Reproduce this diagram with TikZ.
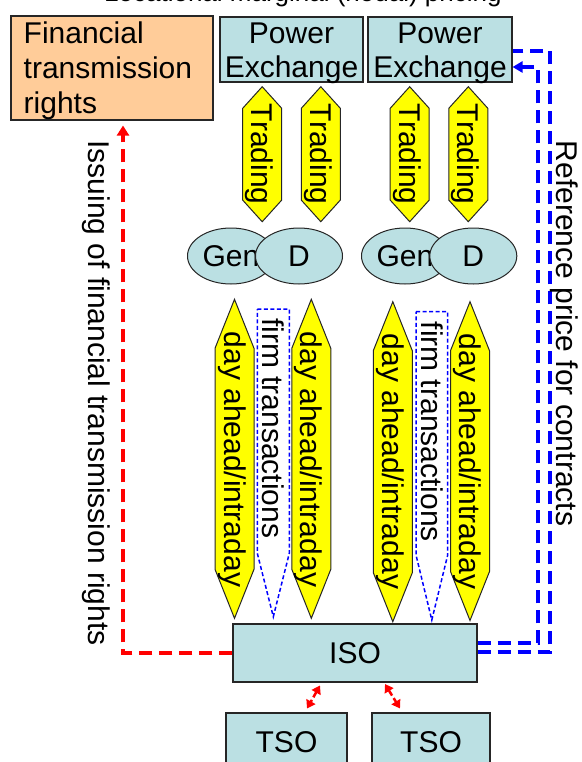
\documentclass[tikz,border=0pt]{standalone}
\usepackage{fontspec}
\setmainfont{Liberation Sans}
\usetikzlibrary{shapes.geometric,arrows.meta,backgrounds}
\definecolor{ftrfill}{HTML}{FFCC99}
\definecolor{boxblue}{HTML}{BBE0E3}
\definecolor{hexyellow}{HTML}{FFFF00}
\definecolor{lineblue}{HTML}{0000FF}
\definecolor{linered}{HTML}{FF0000}
\definecolor{edgegray}{HTML}{262626}
% cx, top, bottom, taper, halfwidth
\newcommand\myhexpath[5]{(#1,#2) -- (#1+#5,#2+#4) -- (#1+#5,#3-#4) -- (#1,#3) -- (#1-#5,#3-#4) -- (#1-#5,#2+#4) -- cycle}
\tikzset{
  bigfont/.style={font=\fontsize{30}{34.5}\selectfont},
  onetext/.style={bigfont, inner sep=0pt, text height=27.15pt, text depth=6.36pt},
  rottext/.style={onetext, rotate=-90},
  bluebox/.style={draw=edgegray, line width=1.1pt, fill=boxblue, inner sep=0pt, onetext},
  ellbox/.style={ellipse, draw=edgegray, line width=1pt, fill=boxblue, inner sep=0pt,
    minimum width=87pt, minimum height=56pt, onetext},
  hexa/.style={draw=edgegray, line width=1pt, fill=hexyellow, line join=miter},
  firmline/.style={draw=lineblue, line width=1.5pt, dash pattern=on 4pt off 2.5pt},
  redline/.style={draw=linered, line width=3.5pt, dash pattern=on 13pt off 7pt},
  blueline/.style={draw=lineblue, line width=3.5pt, dash pattern=on 13pt off 7pt},
  smallred/.style={draw=linered, line width=2.5pt, dash pattern=on 6pt off 3pt,
    {Triangle[length=8pt,width=10pt]}-{Triangle[length=8pt,width=10pt]}},
}
\begin{document}
\begin{tikzpicture}[x=1pt,y=-1pt]
\useasboundingbox (0,0) rectangle (581,762);
\clip (0,0) rectangle (581,762);

% title (cut off at the top)
\node[anchor=base west, inner sep=0pt, font=\fontsize{26}{30}\selectfont] (title) at (104,1.5) {Locational marginal (nodal) pricing};

% Financial transmission rights
\node[draw=edgegray, line width=1.1pt, fill=ftrfill, minimum width=202pt, minimum height=104pt, inner sep=0pt] (ftr) at (112,68) {};
\node[bigfont, align=left, anchor=west, inner sep=0pt, font=\fontsize{30}{35}\selectfont] (ftrt) at (23.5,70.4) {Financial\\transmission\\rights};

% Power exchanges
\node[bluebox, minimum width=143pt, minimum height=65pt] (pe1) at (291.5,49.5) {};
\node[bigfont, align=center, inner sep=0pt] (pe1t) at (291.5,53.2) {Power\\Exchange};
\node[bluebox, minimum width=144pt, minimum height=65pt] (pe2) at (440,49.5) {};
\node[bigfont, align=center, inner sep=0pt] (pe2t) at (440,53.2) {Power\\Exchange};

% Trading arrows
\draw[hexa] \myhexpath{262.2}{86.7}{221.7}{21.6}{19.5};
\draw[hexa] \myhexpath{320.8}{86.7}{221.7}{21.6}{19.5};
\draw[hexa] \myhexpath{409.7}{86.7}{221.7}{21.6}{19.5};
\draw[hexa] \myhexpath{468.3}{86.7}{221.7}{21.6}{19.5};
\node[rottext] (tr1) at (262.2,154.2) {Trading};
\node[rottext] (tr2) at (320.8,154.2) {Trading};
\node[rottext] (tr3) at (409.7,154.2) {Trading};
\node[rottext] (tr4) at (468.3,154.2) {Trading};

% Gen / D
\node[ellbox] (gen1) at (231,256) {Gen};
\node[ellbox] (d1) at (299,256) {D};
\node[ellbox] (gen2) at (405,256) {Gen};
\node[ellbox] (d2) at (473.3,256) {D};

% day ahead / intraday arrows
\draw[hexa] \myhexpath{234.5}{299.3}{618.3}{49}{19.5};
\draw[hexa] \myhexpath{311.3}{299.3}{618.3}{49}{19.5};
\draw[hexa] \myhexpath{392.8}{301.7}{621.7}{49}{19.5};
\draw[hexa] \myhexpath{470}{301.7}{620.5}{49}{19.5};
\node[rottext] (da1) at (234.5,459.5) {day ahead/intraday};
\node[rottext] (da2) at (311.3,459.5) {day ahead/intraday};
\node[rottext] (da3) at (392.8,461.5) {day ahead/intraday};
\node[rottext] (da4) at (470,461.5) {day ahead/intraday};

% firm transactions
\draw[firmline] (257.3,309) -- (289.3,309) -- (289.3,553.3) -- (273.3,616.7) -- (257.3,553.3) -- cycle;
\draw[firmline] (416,311.7) -- (447.7,311.7) -- (447.7,555) -- (431.8,620) -- (416,555) -- cycle;
\node[rottext, anchor=west] (firm1) at (273.3,318) {firm transactions};
\node[rottext, anchor=west] (firm2) at (431.8,321.5) {firm transactions};

% ISO and TSOs
\node[bluebox, minimum width=244pt, minimum height=58pt] (iso) at (355,653) {ISO};
\node[bluebox, minimum width=121pt, minimum height=58pt] (tso1) at (286.5,742) {TSO};
\node[bluebox, minimum width=118pt, minimum height=58pt] (tso2) at (431,742) {TSO};

% side labels
\node[rottext] (issuing) at (98.5,393) {Issuing of financial transmission rights};
\node[rottext] (refp) at (566.5,333.5) {Reference price for contracts};

% connectors
\begin{scope}[on background layer]
  \coordinate (bo) at (550,0);
  \coordinate (bi) at (538,0);
  \coordinate (isoo) at ([shift={(0,-1)}]iso.east);
  \coordinate (isoi) at ([shift={(0,-10)}]iso.east);
  \coordinate (peo) at ([shift={(0,1.5)}]pe1.east);
  \coordinate (pei) at ([shift={(0,17.5)}]pe2.east);
  \draw[blueline] (isoo) -- (isoo -| bo) -- (bo |- peo) -- (peo);
  \draw[blueline, -{Triangle[length=10pt,width=11pt]}] (isoi) -- (isoi -| bi) -- (bi |- pei) -- (pei);
  \coordinate (ftrin) at ([shift={(11,5)}]ftr.south);
  \draw[redline, -{Triangle[length=10pt,width=12pt]}] (iso.west) -| (ftrin);
\end{scope}
\draw[smallred] ([shift={(-35,3)}]iso.south) -- ([shift={(20.5,-4)}]tso1.north);
\draw[smallred] ([shift={(30,1.5)}]iso.south) -- ([shift={(-31,-4)}]tso2.north);
\end{tikzpicture}
\end{document}
